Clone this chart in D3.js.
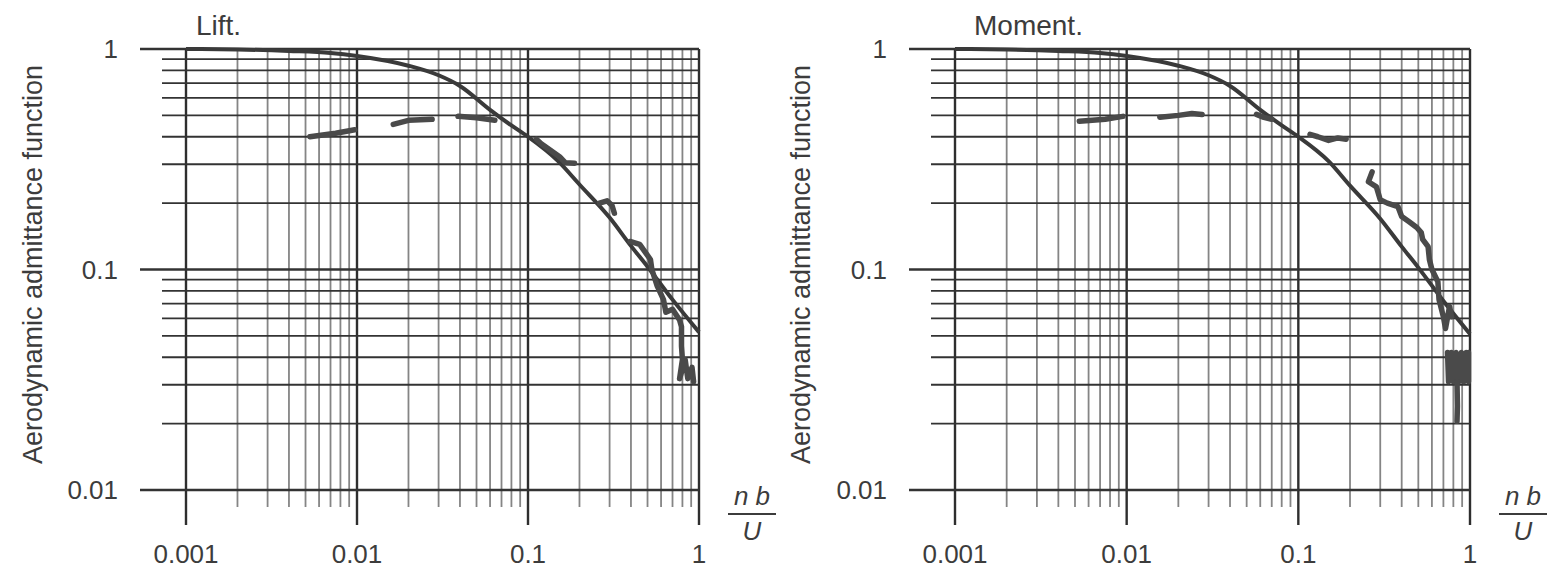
<!DOCTYPE html>
<html>
<head>
<meta charset="utf-8">
<script src="https://cdn.jsdelivr.net/npm/d3@7"></script>
<style>
  body { margin: 0; background: #fff; }
  svg text { font-family: "Liberation Sans", Arial, sans-serif; fill: #3c3c3c; }
</style>
</head>
<body>
<svg id="chart" width="1552" height="569"></svg>
<script>
// axis labels
const xTickValues = [0.001, 0.01, 0.1, 1];
const xTickLabels = ['0.001', '0.01', '0.1', '1'];
const yTickValues = [1, 0.1, 0.01];
const yTickLabels = ['1', '0.1', '0.01'];
const panelTitles = ['Lift.', 'Moment.'];
const yTitle = 'Aerodynamic admittance function';

// theoretical admittance (solid line)
const theoryFreq   = [0.001, 0.002, 0.004, 0.007, 0.01, 0.02, 0.03, 0.04, 0.06, 0.08, 0.1, 0.15, 0.2, 0.3, 0.4, 0.5, 0.7, 1];
const liftTheory   = [1.0, 0.995, 0.98, 0.96, 0.93, 0.84, 0.76, 0.68, 0.53, 0.45, 0.40, 0.31, 0.243, 0.172, 0.128, 0.103, 0.073, 0.052];
const momentTheory = [1.0, 0.995, 0.98, 0.96, 0.93, 0.84, 0.76, 0.68, 0.53, 0.45, 0.40, 0.31, 0.24, 0.17, 0.127, 0.102, 0.072, 0.051];

// measured admittance traces, [n b / U, value]
const liftMeasured = [
  [[0.0053, 0.40], [0.0075, 0.415], [0.0097, 0.43]],
  [[0.0163, 0.455], [0.02, 0.475], [0.0275, 0.48]],
  [[0.039, 0.495], [0.05, 0.488], [0.064, 0.475]],
  [[0.112, 0.39], [0.119, 0.373], [0.153, 0.325], [0.165, 0.305], [0.187, 0.303]],
  [[0.262, 0.20], [0.29, 0.205], [0.31, 0.195], [0.32, 0.18]],
  [[0.395, 0.134], [0.45, 0.13], [0.52, 0.111], [0.53, 0.10], [0.57, 0.084], [0.62, 0.073],
   [0.64, 0.064], [0.70, 0.066], [0.77, 0.059], [0.79, 0.055], [0.79, 0.045], [0.80, 0.039],
   [0.77, 0.032], [0.83, 0.039], [0.86, 0.032], [0.91, 0.036], [0.93, 0.031]]
];
const momentMeasured = [
  [[0.0053, 0.47], [0.0075, 0.48], [0.0095, 0.495]],
  [[0.0156, 0.49], [0.02, 0.50], [0.024, 0.51], [0.0275, 0.505]],
  [[0.057, 0.505], [0.063, 0.49], [0.070, 0.48]],
  [[0.117, 0.41], [0.13, 0.40], [0.15, 0.385], [0.17, 0.395], [0.19, 0.39]],
  [[0.269, 0.277], [0.256, 0.25], [0.285, 0.237], [0.30, 0.207], [0.33, 0.20], [0.38, 0.193],
   [0.40, 0.174], [0.44, 0.165], [0.49, 0.155], [0.52, 0.147], [0.53, 0.137], [0.57, 0.127],
   [0.58, 0.111], [0.60, 0.10], [0.65, 0.088], [0.66, 0.073], [0.70, 0.061], [0.72, 0.054],
   [0.76, 0.068], [0.78, 0.061]],
  [[0.74, 0.042], [0.75, 0.031], [0.78, 0.042], [0.80, 0.031], [0.83, 0.042], [0.86, 0.031],
   [0.89, 0.042], [0.92, 0.031], [0.95, 0.042], [0.98, 0.031], [0.98, 0.042]],
  [[0.84, 0.031], [0.845, 0.024], [0.84, 0.0205]]
];

const svg = d3.select('#chart');
const plotTop = 49, plotBottom = 490;

const panels = [
  { title: panelTitles[0], x0: 186, x1: 699, titleX: 196, theory: liftTheory, measured: liftMeasured, labelX: 33 },
  { title: panelTitles[1], x0: 955, x1: 1470, titleX: 974, theory: momentTheory, measured: momentMeasured, labelX: 801 }
];

const y = d3.scaleLog().domain([0.01, 1]).range([plotBottom, plotTop]);
const isDecade = v => Math.abs(Math.log10(v) - Math.round(Math.log10(v))) < 1e-9;

panels.forEach(p => {
  const x = d3.scaleLog().domain([0.001, 1]).range([p.x0, p.x1]);
  const g = svg.append('g');

  // vertical grid, running into the tick marks below the plot
  g.selectAll('.vgrid')
    .data(x.ticks())
    .enter().append('line')
    .attr('x1', d => x(d)).attr('x2', d => x(d))
    .attr('y1', plotTop)
    .attr('y2', d => isDecade(d) ? plotBottom + 35 : plotBottom + 17)
    .attr('stroke', d => isDecade(d) ? '#2e2e2e' : '#858585')
    .attr('stroke-width', d => isDecade(d) ? 2.4 : 1.8);

  // horizontal grid, starting left of the axis as ticks
  g.selectAll('.hgrid')
    .data(y.ticks())
    .enter().append('line')
    .attr('x1', d => isDecade(d) ? p.x0 - 46 : p.x0 - 24)
    .attr('x2', p.x1)
    .attr('y1', d => y(d)).attr('y2', d => y(d))
    .attr('stroke', '#333')
    .attr('stroke-width', d => isDecade(d) ? 2.4 : 1.9);

  // y tick labels
  g.selectAll('.ylab')
    .data(yTickValues)
    .enter().append('text')
    .attr('x', p.x0 - 68)
    .attr('y', d => y(d) + 9)
    .attr('text-anchor', 'end')
    .attr('font-size', 26)
    .text((d, i) => yTickLabels[i]);

  // x tick labels
  g.selectAll('.xlab')
    .data(xTickValues)
    .enter().append('text')
    .attr('x', d => x(d))
    .attr('y', 563)
    .attr('text-anchor', 'middle')
    .attr('font-size', 26)
    .text((d, i) => xTickLabels[i]);

  // title
  g.append('text')
    .attr('x', p.titleX)
    .attr('y', 35)
    .attr('font-size', 28)
    .text(p.title);

  // y axis title
  g.append('text')
    .attr('transform', `translate(${p.labelX}, ${(plotTop + plotBottom) / 2 - 5}) rotate(-90)`)
    .attr('text-anchor', 'middle')
    .attr('dy', '0.35em')
    .attr('font-size', 27)
    .text(yTitle);

  // n b / U
  const fx = p.x1 + 53;
  g.append('text')
    .attr('x', fx).attr('y', 505)
    .attr('text-anchor', 'middle')
    .attr('font-size', 26)
    .attr('font-style', 'italic')
    .text('n b');
  g.append('line')
    .attr('x1', fx - 24).attr('x2', fx + 24)
    .attr('y1', 514).attr('y2', 514)
    .attr('stroke', '#3c3c3c').attr('stroke-width', 2);
  g.append('text')
    .attr('x', fx).attr('y', 540)
    .attr('text-anchor', 'middle')
    .attr('font-size', 26)
    .attr('font-style', 'italic')
    .text('U');

  // theoretical curve
  const theoryPts = theoryFreq.map((f, i) => [f, p.theory[i]]);
  g.append('path')
    .datum(theoryPts)
    .attr('fill', 'none')
    .attr('stroke', '#3a3a3a')
    .attr('stroke-width', 4)
    .attr('d', d3.line().x(d => x(d[0])).y(d => y(d[1])).curve(d3.curveMonotoneX));

  // measured traces
  g.selectAll('.meas')
    .data(p.measured)
    .enter().append('path')
    .attr('fill', 'none')
    .attr('stroke', '#4a4a4a')
    .attr('stroke-width', 5.5)
    .attr('stroke-linejoin', 'round')
    .attr('stroke-linecap', 'round')
    .attr('d', d3.line().x(d => x(d[0])).y(d => y(d[1])));
});
</script>
</body>
</html>
